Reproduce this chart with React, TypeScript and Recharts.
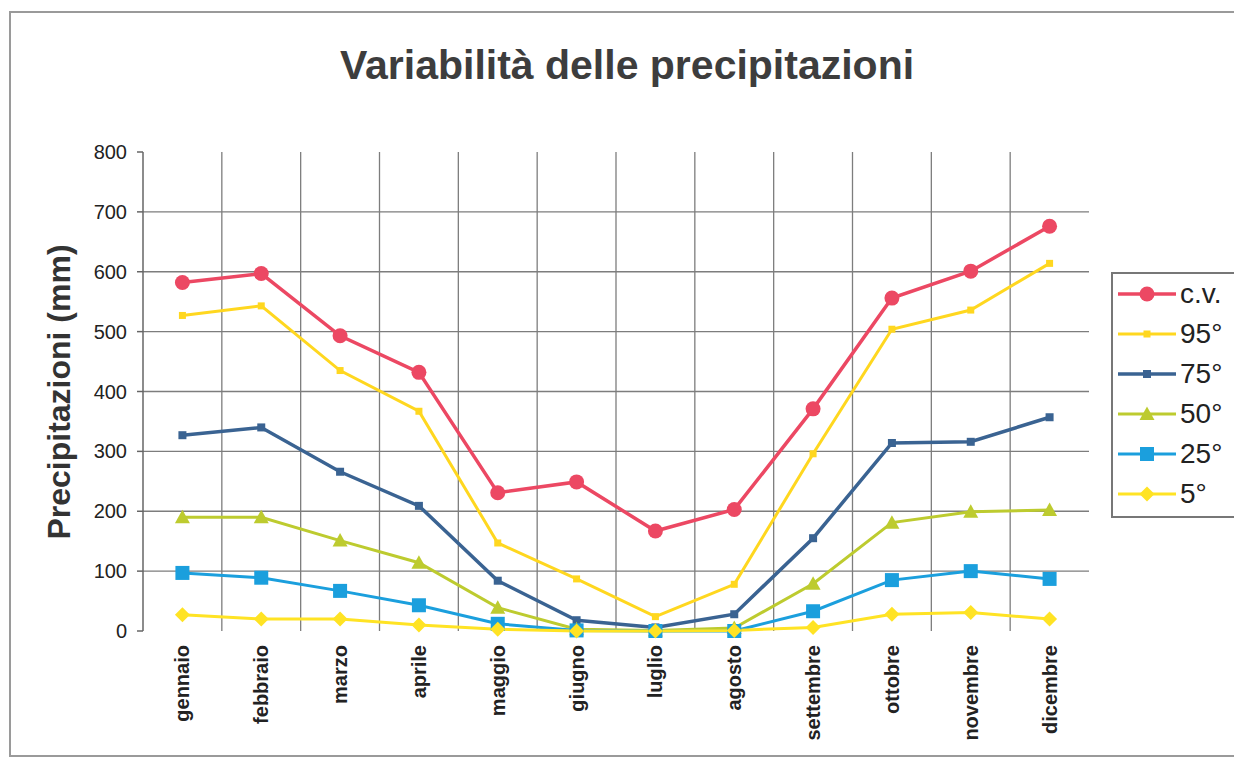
import React from "react";
import { LineChart, Line, XAxis, YAxis, CartesianGrid } from "recharts";

// Variabilità delle precipitazioni — percentili mensili + c.v.

const months = [
  "gennaio", "febbraio", "marzo", "aprile", "maggio", "giugno",
  "luglio", "agosto", "settembre", "ottobre", "novembre", "dicembre",
];

const cv = [582, 597, 493, 432, 231, 249, 167, 203, 371, 556, 601, 676];
const p95 = [527, 543, 435, 367, 147, 87, 24, 78, 296, 504, 536, 614];
const p75 = [327, 340, 266, 209, 84, 18, 6, 28, 155, 314, 316, 357];
const p50 = [190, 190, 151, 114, 39, 3, 1, 5, 79, 181, 199, 202];
const p25 = [97, 89, 67, 43, 12, 1, 0, 0, 33, 85, 100, 87];
const p5 = [27, 20, 20, 10, 3, 0, 0, 1, 6, 28, 31, 20];

const yTicks = [0, 100, 200, 300, 400, 500, 600, 700, 800];

const FONT = '"Liberation Sans", Arial, sans-serif';

type Shape = "circle" | "square" | "triangle" | "diamond";

const series: { key: string; name: string; values: number[]; color: string; shape: Shape; size: number; width: number }[] = [
  { key: "cv", name: "c.v.", values: cv, color: "#EC4863", shape: "circle", size: 15, width: 3.5 },
  { key: "p95", name: "95°", values: p95, color: "#FFD71F", shape: "square", size: 7, width: 3 },
  { key: "p75", name: "75°", values: p75, color: "#3A6392", shape: "square", size: 8, width: 3.5 },
  { key: "p50", name: "50°", values: p50, color: "#BDCB2F", shape: "triangle", size: 15, width: 3 },
  { key: "p25", name: "25°", values: p25, color: "#1B9FDD", shape: "square", size: 14, width: 3 },
  { key: "p5", name: "5°", values: p5, color: "#FFE324", shape: "diamond", size: 15, width: 3 },
];

const data = months.map((m, i) => {
  const row: Record<string, number | string> = { x: i + 0.5, month: m };
  series.forEach((s) => (row[s.key] = s.values[i]));
  return row;
});

function Marker({ shape, cx, cy, color, size }: { shape: Shape; cx: number; cy: number; color: string; size: number }) {
  const h = size / 2;
  if (shape === "circle") return <circle cx={cx} cy={cy} r={h} fill={color} />;
  if (shape === "square") return <rect x={cx - h} y={cy - h} width={size} height={size} fill={color} />;
  if (shape === "triangle")
    return <polygon points={`${cx},${cy - h} ${cx + h},${cy + h * 0.8} ${cx - h},${cy + h * 0.8}`} fill={color} />;
  return <polygon points={`${cx},${cy - h} ${cx + h},${cy} ${cx},${cy + h} ${cx - h},${cy}`} fill={color} />;
}

function MonthTick(props: any) {
  const { x, y, payload } = props;
  const label = months[Math.floor(payload.value)];
  return (
    <text
      x={x}
      y={y}
      dy={7}
      transform={`rotate(-90 ${x} ${y})`}
      textAnchor="end"
      fontFamily={FONT}
      fontWeight="bold"
      fontSize={20}
      fill="#222"
    >
      {label}
    </text>
  );
}

export default function App() {
  return (
    <div
      style={{
        position: "absolute",
        left: 0,
        top: 0,
        width: 1234,
        height: 757,
        overflow: "hidden",
        background: "#fff",
        fontFamily: FONT,
      }}
    >
      <div
        style={{
          position: "absolute",
          left: 9,
          top: 11,
          width: 1240,
          height: 742,
          border: "2px solid #9a9a9a",
        }}
      />
      <LineChart
        width={1234}
        height={757}
        data={data}
        margin={{ top: 152, right: 145, bottom: 0, left: 0 }}
        style={{ position: "absolute", left: 0, top: 0 }}
      >
        <CartesianGrid
          xAxisId="m"
          stroke="#7d7d7d"
          strokeWidth={1.3}
          horizontalValues={[100, 200, 300, 400, 500, 600, 700]}
          verticalValues={[1, 2, 3, 4, 5, 6, 7, 8, 9, 10, 11]}
        />
        <XAxis
          xAxisId="b"
          dataKey="x"
          type="number"
          domain={[0, 12]}
          ticks={[0, 1, 2, 3, 4, 5, 6, 7, 8, 9, 10, 11, 12]}
          tickFormatter={() => ""}
          height={0}
          tickSize={6}
          axisLine={{ stroke: "#666", strokeWidth: 1.5 }}
          tickLine={{ stroke: "#666", strokeWidth: 1.5 }}
        />
        <XAxis
          xAxisId="m"
          dataKey="x"
          type="number"
          domain={[0, 12]}
          ticks={months.map((_, i) => i + 0.5)}
          height={126}
          axisLine={false}
          tickLine={false}
          tickSize={0}
          tickMargin={14}
          interval={0}
          tick={<MonthTick />}
        />
        <YAxis
          domain={[0, 800]}
          ticks={yTicks}
          width={143}
          tickSize={6}
          tickMargin={10}
          interval={0}
          axisLine={{ stroke: "#666", strokeWidth: 1.5 }}
          tickLine={{ stroke: "#666", strokeWidth: 1.5 }}
          tick={{ fontSize: 20, fill: "#222", fontFamily: FONT }}
        />
        {series.map((s) => (
          <Line
            key={s.key}
            xAxisId="m"
            dataKey={s.key}
            name={s.name}
            type="linear"
            stroke={s.color}
            strokeWidth={s.width}
            isAnimationActive={false}
            dot={(p: any) => (
              <Marker key={`${s.key}-${p.index}`} shape={s.shape} cx={p.cx} cy={p.cy} color={s.color} size={s.size} />
            )}
            activeDot={false}
          />
        ))}
      </LineChart>
      <svg width={1234} height={757} style={{ position: "absolute", left: 0, top: 0, pointerEvents: "none" }}>
        <text x={627} y={79} textAnchor="middle" fontFamily={FONT} fontWeight="bold" fontSize={41} fill="#3d3d3d">
          Variabilità delle precipitazioni
        </text>
        <text
          x={70}
          y={392}
          transform="rotate(-90 70 392)"
          textAnchor="middle"
          fontFamily={FONT}
          fontWeight="bold"
          fontSize={32}
          fill="#333"
        >
          Precipitazioni (mm)
        </text>
      </svg>
      <div
        style={{
          position: "absolute",
          left: 1111,
          top: 272,
          width: 140,
          height: 242,
          border: "2px solid #777",
          background: "#fff",
        }}
      >
        {series.map((s) => (
          <div key={s.key} style={{ position: "relative", height: 40 }}>
            <svg width={62} height={40} style={{ position: "absolute", left: 5, top: 0 }}>
              <line x1={0} y1={20} x2={58} y2={20} stroke={s.color} strokeWidth={s.width} />
              <Marker shape={s.shape} cx={29} cy={20} color={s.color} size={s.size} />
            </svg>
            <span
              style={{
                position: "absolute",
                left: 67,
                top: 0,
                lineHeight: "40px",
                fontSize: 28,
                color: "#222",
                whiteSpace: "nowrap",
              }}
            >
              {s.name}
            </span>
          </div>
        ))}
      </div>
    </div>
  );
}
